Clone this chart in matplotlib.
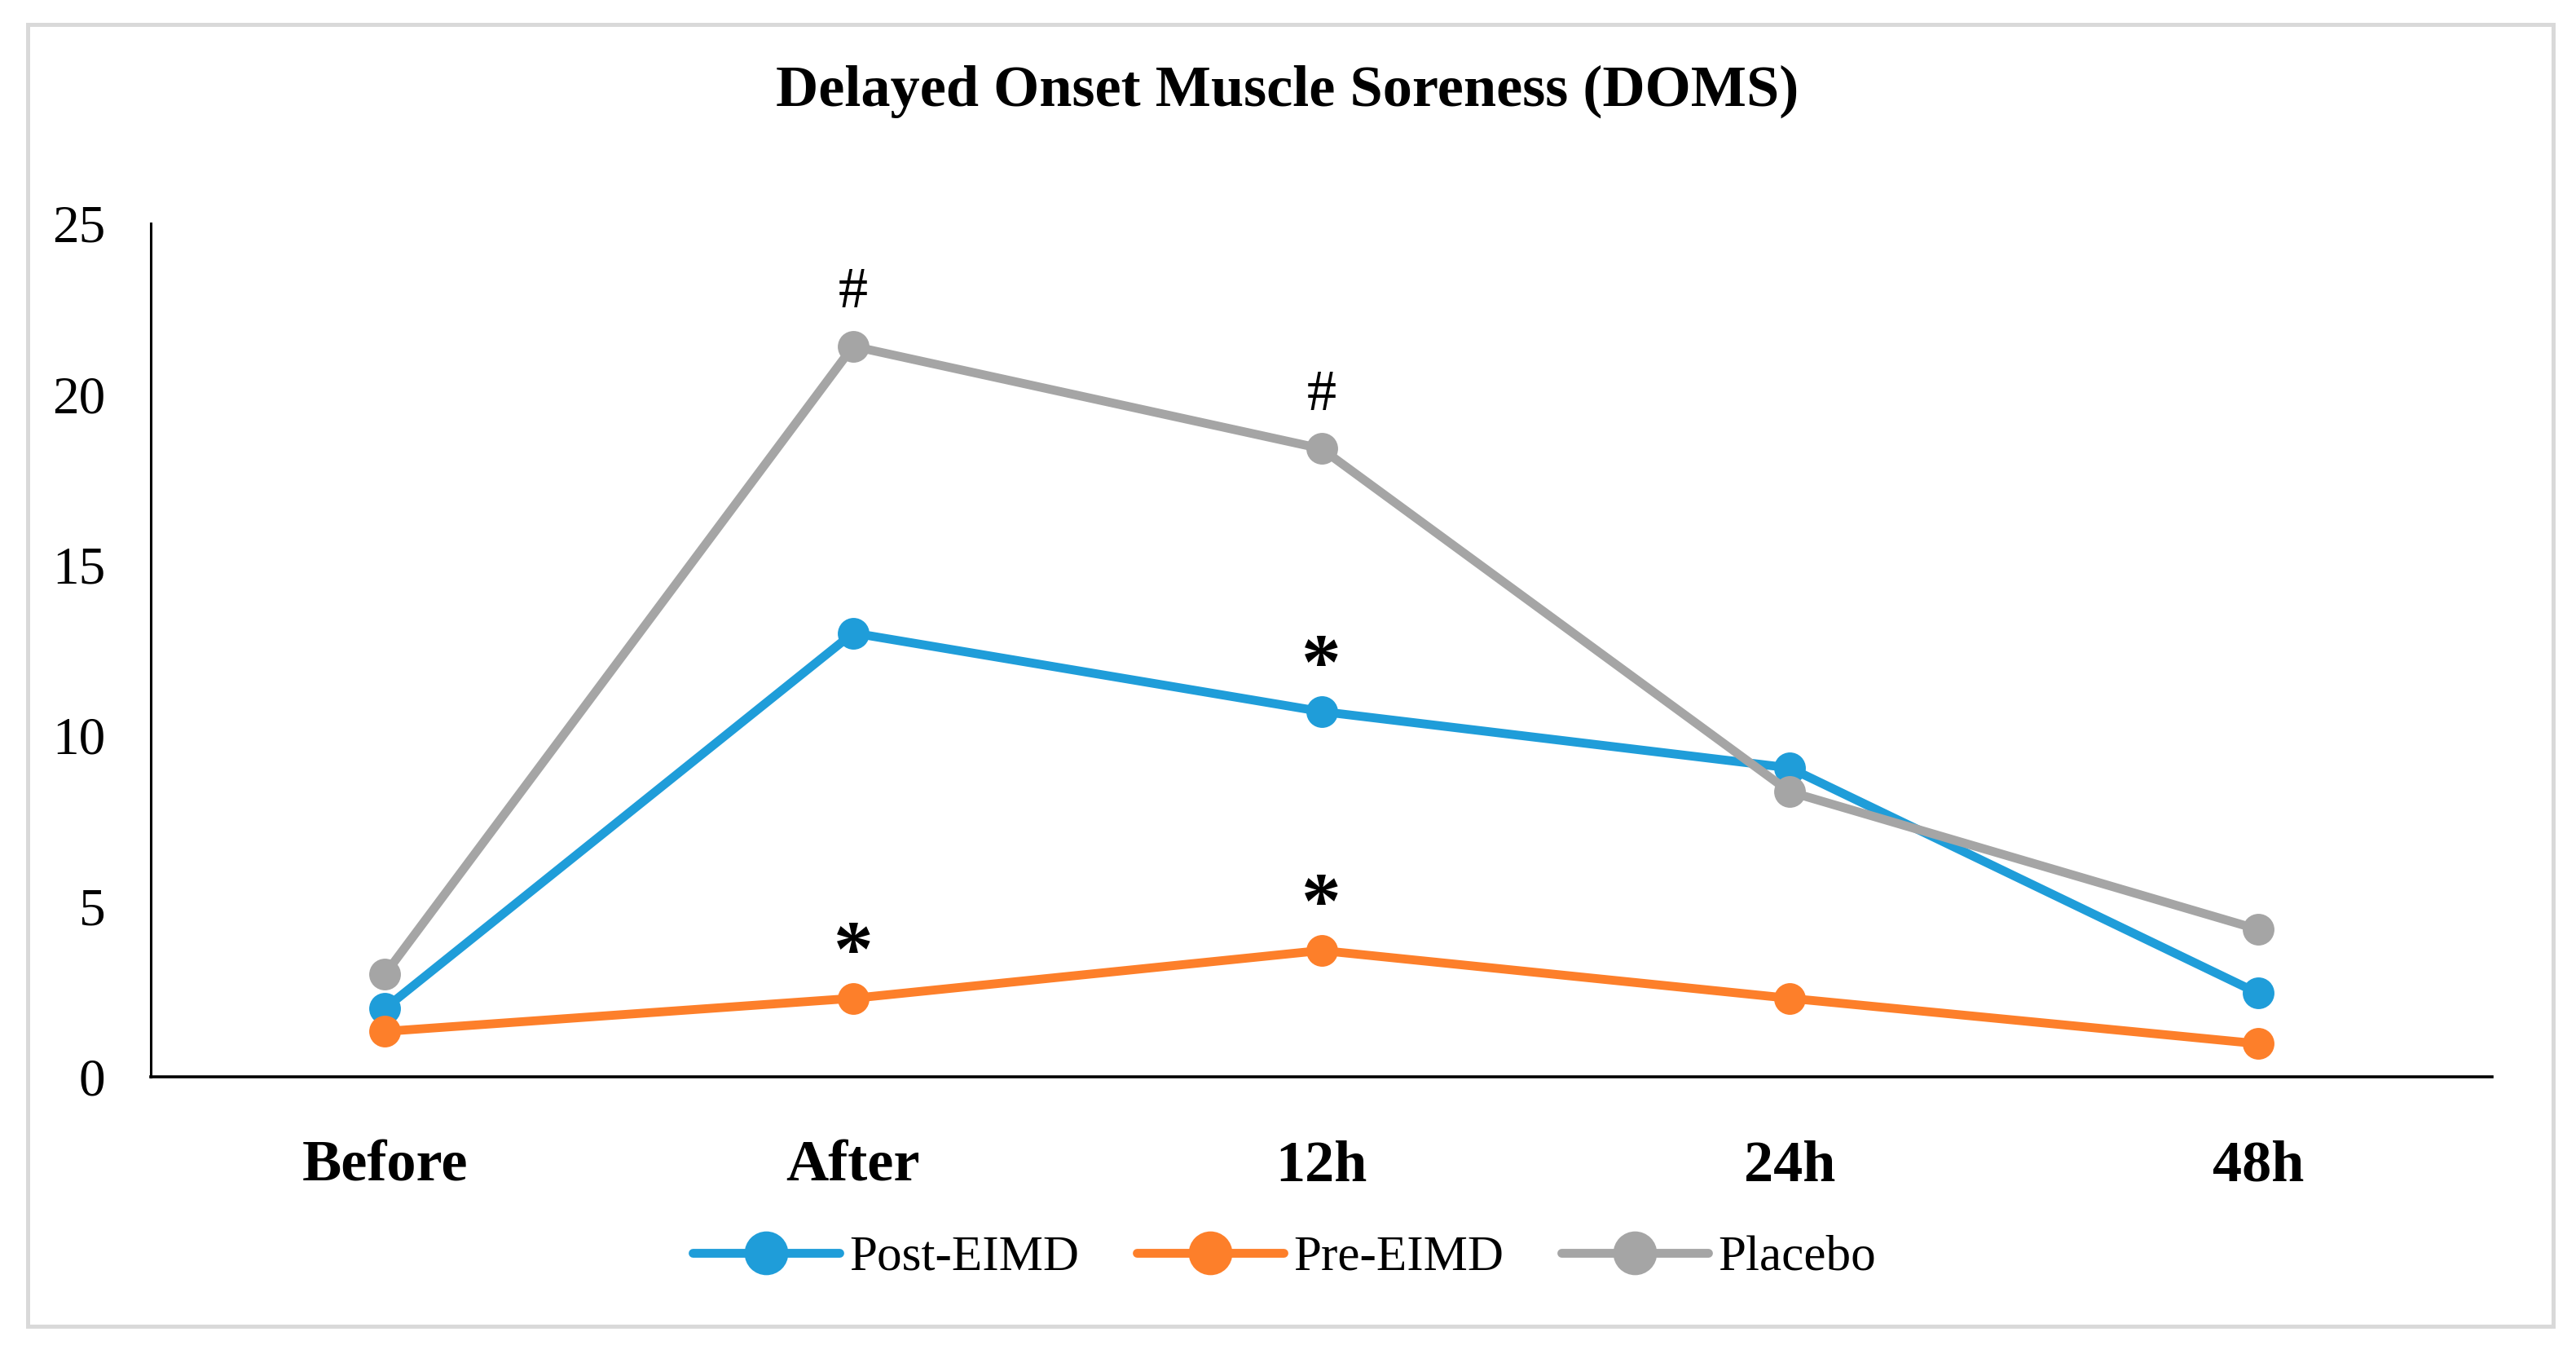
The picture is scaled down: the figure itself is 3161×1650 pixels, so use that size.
import matplotlib
matplotlib.use("Agg")
import matplotlib.pyplot as plt
from matplotlib.patches import Rectangle

categories = ["Before", "After", "12h", "24h", "48h"]
post_eimd = [2.0, 13.0, 10.7, 9.05, 2.45]
pre_eimd = [1.33, 2.3, 3.7, 2.3, 0.97]
placebo = [3.0, 21.4, 18.4, 8.35, 4.32]
series_names = ["Post-EIMD", "Pre-EIMD", "Placebo"]
colors = ["#1F9DD9", "#FD7F2A", "#A5A5A5"]
y_ticks = [0, 5, 10, 15, 20, 25]

# significance marks: (series index, category index, symbol)
marks = [(2, 1, "#"), (2, 2, "#"), (0, 2, "*"), (1, 1, "*"), (1, 2, "*")]

plt.rcParams['font.family'] = ['Liberation Serif', 'DejaVu Serif']

W, H = 3161, 1650
fig = plt.figure(figsize=(W / 100, H / 100), dpi=100)
fig.patch.set_facecolor("white")

# outer border
fig.add_artist(Rectangle((33.5 / W, 1 - 1627 / H), (3133 - 33.5) / W, (1627 - 29.5) / H,
                         transform=fig.transFigure, fill=False, edgecolor="#D9D9D9",
                         linewidth=3.6))

ax = fig.add_axes([185 / W, 1 - 1321 / H, (3058 - 185) / W, (1321 - 274) / H])
x = list(range(len(categories)))
data = [post_eimd, pre_eimd, placebo]
lines = []
for vals, name, c in zip(data, series_names, colors):
    ln, = ax.plot(x, vals, color=c, linewidth=7.8, marker="o", markersize=28,
                  markeredgewidth=0, label=name, solid_capstyle="round")
    lines.append(ln)

for si, ci, sym in marks:
    if sym == "#":
        ax.annotate(sym, (x[ci], data[si][ci]), xytext=(0, 47), textcoords="offset points",
                    ha="center", va="center", fontsize=52)
    else:
        ax.annotate(sym, (x[ci], data[si][ci]), xytext=(0, 21), textcoords="offset points",
                    ha="center", va="baseline", fontsize=70, fontweight="bold")

ax.set_xlim(-0.5, 4.5)
ax.set_ylim(0, 25)
ax.set_yticks(y_ticks)
ax.set_yticklabels([str(v) for v in y_ticks], fontsize=47)
ax.set_xticks(x)
ax.set_xticklabels(categories, fontsize=52, fontweight="bold")
ax.tick_params(axis="y", length=0, pad=40)
ax.tick_params(axis="x", length=0, pad=56)
for s in ["top", "right"]:
    ax.spines[s].set_visible(False)
ax.spines["left"].set_linewidth(2.2)
ax.spines["bottom"].set_linewidth(2.6)

fig.text(1580 / W, 1 - 130 / H, "Delayed Onset Muscle Soreness (DOMS)", ha="center",
         va="baseline", fontsize=52, fontweight="bold")

fig.legend(lines, series_names, loc="center", bbox_to_anchor=(1576 / W, 1 - 1543 / H),
           ncol=3, frameon=False, fontsize=44, markerscale=1.38, handlelength=2.95,
           handletextpad=0.2, columnspacing=1.15)

fig.savefig("out.png", dpi=100)
